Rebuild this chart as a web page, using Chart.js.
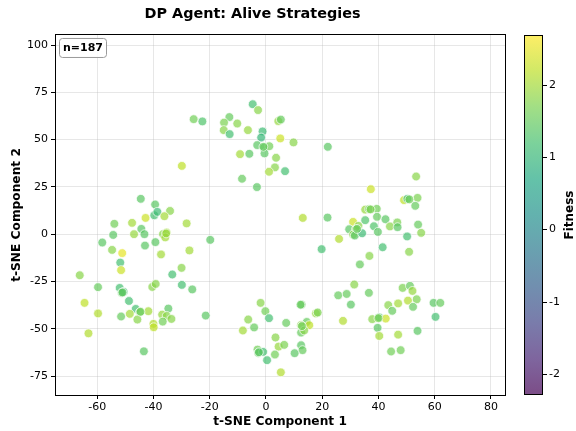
<!DOCTYPE html>
<html>
<head>
<meta charset="utf-8">
<script src="https://cdn.jsdelivr.net/npm/chart.js@4.4.1/dist/chart.umd.min.js"></script>
<style>
  html, body { margin: 0; padding: 0; background: #fff; }
  #wrap { width: 576px; height: 431px; }
</style>
</head>
<body>
<div id="wrap"><canvas id="tsneCanvas"></canvas></div>
<script>
// t-SNE points, one row per strategy: [x, y, fitness]
const topCluster = [
  [-4.7, 68.7, 1.2], [-2.8, 65.6, 1.8], [-25.7, 60.8, 1.6], [-22.6, 59.6, 1.3], [-13, 61.9, 1.5],
  [-14.9, 59, 1.7], [-10.2, 58.5, 1.8], [-15, 55, 1.8], [-12.9, 52.9, 1.2], [-6.4, 55, 1.9],
  [4.4, 59.8, 1.9], [5.3, 60.6, 1.5], [-1.2, 54.3, 1.1], [-1.7, 51.1, 1.0], [5.1, 50.6, 2.3],
  [9.8, 48.5, 1.8], [22, 46.2, 1.4], [-3.1, 47.1, 1.4], [-0.6, 45.8, 1.4], [1.2, 46.5, 1.6],
  [-0.5, 42.7, 1.4], [-9.2, 42.3, 2.0], [-5.9, 42.5, 1.4], [3.6, 40.4, 1.8], [3.2, 35.3, 1.8],
  [1.1, 33, 2.0], [6.8, 33.3, 1.2], [-8.5, 29.3, 1.5], [-3.2, 24.9, 1.4], [-29.9, 36.1, 2.2]
];
const leftCluster = [
  [-44.5, 18.7, 1.4], [-39.4, 15.7, 1.4], [-42.8, 8.6, 2.3], [-39.7, 10, 1.2], [-53.9, 5.5, 1.6],
  [-47.6, 6, 2.0], [-44.3, 2.8, 1.4], [-54.3, -0.4, 1.4], [-46.9, 0, 1.9], [-43.2, 0, 1.4],
  [-58.2, -4.4, 1.4], [-43, -6, 1.4], [-54.7, -8.3, 1.8], [-51.1, -10, 2.5], [-51.8, -15, 1.2],
  [-51.5, -19, 2.3], [-66.2, -21.7, 1.8], [-38.6, 11.8, 1.1], [-34.1, 12.3, 1.8], [-36.1, 9.5, 2.0],
  [-28.2, 5.7, 2.0], [-36.6, 0, 1.8], [-35.3, 0.9, 2.0], [-35.8, -1.7, 2.0], [-39.3, -4.2, 1.4],
  [-19.8, -3, 1.4], [-37.3, -10.7, 2.0], [-27.2, -8.6, 2.0], [-30, -17.8, 1.8], [-33.3, -21.3, 1.2],
  [-59.7, -28, 1.5], [-52, -28.4, 1.2], [-50.6, -30.5, 1.2], [-51.3, -31, 1.5], [-40.4, -27.9, 1.8],
  [-64.5, -36.3, 2.2], [-48.7, -35.3, 1.2], [-46.3, -39.5, 1.2], [-44.8, -41.2, 1.5], [-41.8, -40.7, 2.0],
  [-59.7, -41.9, 2.1], [-51.5, -43.5, 1.5], [-48.4, -42.1, 2.0], [-45.7, -45.1, 1.8], [-63.1, -52.4, 2.1],
  [-40, -47.4, 2.1], [-39.9, -49.2, 2.2], [-43.4, -61.9, 1.4], [-39.2, -26.3, 1.8], [-29.9, -26.8, 1.2],
  [-26.2, -29.2, 1.4], [-34.7, -39.3, 1.4], [-36.9, -42.5, 1.9], [-35.3, -43.2, 1.8], [-33.6, -44.8, 1.8],
  [-36.7, -46.2, 1.6], [-21.4, -43, 1.4]
];
const rightUpperCluster = [
  [37.3, 23.8, 2.3], [13.1, 8.6, 2.1], [21.9, 8.8, 1.4], [35.3, 13, 1.9], [36.7, 13.2, 1.5],
  [39.4, 13.4, 1.6], [39.5, 9.2, 1.5], [31, 6.5, 2.3], [35.3, 7.4, 1.3], [32.9, 4.4, 1.8],
  [29.6, 2.6, 1.4], [32, 2.6, 1.8], [38.4, 4.2, 1.3], [31, -0.2, 1.8], [31.6, -0.7, 1.4],
  [34.2, 0.5, 1.1], [26, -2.5, 2.1], [19.8, -7.9, 1.2], [36.8, -11.5, 1.8], [33.4, -16, 1.5],
  [53.4, 30.5, 1.8], [49.1, 18, 2.2], [50.3, 18.7, 1.1], [53.9, 19.2, 1.7], [53.1, 15, 1.5],
  [42.5, 7.9, 1.4], [46.7, 6.2, 1.7], [44.1, 4.1, 1.8], [46.8, 3.7, 1.4], [54.1, 5.1, 1.5],
  [55.2, 0.7, 1.8], [39.8, 1.2, 1.4], [50.2, -1.2, 1.2], [41.5, -6.9, 1.2], [50.9, -9.3, 1.8]
];
const rightLowerCluster = [
  [31.4, -26.6, 1.8], [25.7, -32.3, 1.5], [28.7, -31.6, 1.5], [36.6, -31, 1.5], [30.2, -37.2, 1.4],
  [12.7, -37.2, 1.5], [17.8, -41.9, 1.9], [18.4, -41.4, 1.7], [14.5, -46.4, 1.5], [12.5, -48.1, 1.8],
  [15.4, -48.1, 2.2], [12.5, -52, 1.5], [27.4, -45.8, 2.1], [37.8, -44.9, 1.8], [40.3, -44, 1.2],
  [39.7, -49.5, 1.4], [40.3, -53.8, 2.0], [12.5, -58.7, 1.4], [13, -61.3, 1.5], [48.6, -28.4, 1.7],
  [51.2, -27.3, 1.5], [52.1, -30, 1.9], [53.6, -34.4, 1.7], [50.5, -35.1, 2.1], [47, -36.6, 2.0],
  [43.5, -37.5, 1.8], [52.3, -38.4, 1.5], [44.9, -40.5, 1.5], [59.6, -36.3, 1.4], [62, -36.3, 1.5],
  [60.3, -43.7, 1.2], [42.6, -44.6, 2.3], [53.9, -51.1, 1.4], [47, -53.1, 2.0], [44.5, -62, 1.6],
  [47.9, -61.3, 1.6]
];
const bottomCluster = [
  [-1.9, -36.3, 1.8], [-0.2, -40.7, 1.6], [-6.3, -45.1, 1.8], [1.1, -44.4, 1.2], [-8.2, -50.9, 2.0],
  [-4.2, -49.3, 1.5], [7.2, -46.9, 1.5], [13.6, -50.9, 1.8], [3.4, -54.6, 1.8], [4.5, -59.4, 1.9],
  [6.5, -58.5, 1.7], [-3, -61, 1.6], [-2.7, -62.8, 1.5], [-1, -62.2, 1.2], [3.2, -63.6, 1.6],
  [0.4, -66.6, 1.2], [10.2, -62.9, 1.4], [5.3, -73, 2.1]
];
// points hidden under others
const overlapPoints = [
  [-35.5, 0.4, 1.9], [32.4, 2.8, 1.5], [-0.9, 46.2, 1.5], [-2.5, -62.4, 1.4], [12.8, -48.6, 1.6],
  [37.2, 13.1, 1.7], [51.0, 18.4, 1.6], [-44.6, -41.0, 1.6], [40.0, -44.4, 1.7], [-51.0, -30.8, 1.4],
  [12.3, -37.3, 1.5]
];

const xTicks = [-60, -40, -20, 0, 20, 40, 60, 80];
const yTicks = [-75, -50, -25, 0, 25, 50, 75, 100];
const fitnessTicks = [-2, -1, 0, 1, 2];
const fitnessMin = -2.29;
const fitnessMax = 2.69;

const allPoints = [].concat(topCluster, leftCluster, rightUpperCluster, rightLowerCluster, bottomCluster, overlapPoints);

// viridis
const viridisStops = ['#440154', '#482475', '#414487', '#355f8d', '#2a788e', '#21918c',
                      '#22a884', '#44bf70', '#7ad151', '#bddf26', '#fde725'];
function hexRgb(h) {
  return [parseInt(h.slice(1, 3), 16), parseInt(h.slice(3, 5), 16), parseInt(h.slice(5, 7), 16)];
}
function viridis(t, alpha) {
  t = Math.max(0, Math.min(1, t));
  const p = t * 10;
  const i = Math.min(9, Math.floor(p));
  const f = p - i;
  const a = hexRgb(viridisStops[i]), b = hexRgb(viridisStops[i + 1]);
  const c = a.map((v, k) => Math.round(v + (b[k] - v) * f));
  return 'rgba(' + c[0] + ',' + c[1] + ',' + c[2] + ',' + alpha + ')';
}
const pointColors = allPoints.map(p => viridis((p[2] - fitnessMin) / (fitnessMax - fitnessMin), 0.7));

const FONT = "'DejaVu Sans', sans-serif";

// n= box and colorbar
const extrasPlugin = {
  id: 'extras',
  afterDraw(chart) {
    const ctx = chart.ctx;
    const a = chart.chartArea;
    const R = Math.round(a.right);
    ctx.save();

    // n= box
    const bx = a.left + 4, by = a.top + 3, bw = 47, bh = 19;
    ctx.beginPath();
    ctx.roundRect(bx + 0.5, by + 0.5, bw, bh, 3);
    ctx.fillStyle = 'rgba(255,255,255,0.85)';
    ctx.fill();
    ctx.strokeStyle = '#9a9a9a';
    ctx.lineWidth = 1;
    ctx.stroke();
    ctx.fillStyle = '#000';
    ctx.font = 'bold 11px ' + FONT;
    ctx.textAlign = 'left';
    ctx.textBaseline = 'middle';
    ctx.fillText('n=' + allPoints.length, bx + 4, by + bh / 2 + 1);

    // colorbar
    const cb = chart.scales.cb;
    const top = Math.round(cb.getPixelForValue(fitnessMax));
    const bottom = Math.round(cb.getPixelForValue(fitnessMin));
    const left = R + 19, right = left + 18;
    const grad = ctx.createLinearGradient(0, bottom, 0, top);
    viridisStops.forEach((c, i) => grad.addColorStop(i / 10, viridis(i / 10, 0.7)));
    ctx.fillStyle = grad;
    ctx.fillRect(left, top, right - left, bottom - top);
    ctx.fillStyle = '#000';
    ctx.fillRect(left, top, right - left + 1, 1);
    ctx.fillRect(left, bottom - 1, right - left + 1, 1);
    ctx.fillRect(left, top, 1, bottom - top);
    ctx.fillRect(right, top, 1, bottom - top);

    ctx.font = '11px ' + FONT;
    ctx.textAlign = 'left';
    ctx.textBaseline = 'middle';
    fitnessTicks.forEach(v => {
      const y = Math.round(cb.getPixelForValue(v));
      ctx.fillRect(right, y, 5, 1);
      ctx.fillText(String(v), right + 7, y + 0.5);
    });

    ctx.translate(right + 28, (top + bottom) / 2);
    ctx.rotate(-Math.PI / 2);
    ctx.textAlign = 'center';
    ctx.font = 'bold 12px ' + FONT;
    ctx.fillText('Fitness', 0, 0);
    ctx.restore();
  }
};

const gridColor = 'rgba(176,176,176,0.3)';

// top and right spines as empty axes
const spineAxis = (axis, position, min, max) => ({
  type: 'linear',
  axis: axis,
  position: position,
  min: min,
  max: max,
  grid: { display: false, drawTicks: false },
  ticks: { display: false },
  border: { display: true, color: '#000', width: 1 },
  afterFit: s => { if (axis === 'x') { s.height = 0; } else { s.width = 0; } }
});

var ctx = document.getElementById('tsneCanvas').getContext('2d');
var tsneChart = new Chart(ctx, {
  type: 'scatter',
  data: {
    datasets: [{
      label: 'strategies',
      data: allPoints.map(p => ({ x: p[0], y: p[1] })),
      pointBackgroundColor: pointColors,
      pointBorderColor: 'rgba(255,255,255,0.9)',
      pointBorderWidth: 0.8,
      pointRadius: 4.4,
      pointHoverRadius: 4.4
    }]
  },
  options: {
    responsive: true,
    maintainAspectRatio: false,
    animation: false,
    events: [],
    layout: { padding: { left: 0, right: 71, top: 0, bottom: 0 } },
    plugins: {
      legend: { display: false },
      tooltip: { enabled: false },
      title: {
        display: true,
        text: 'DP Agent: Alive Strategies',
        color: '#000',
        font: { family: FONT, size: 14.4, weight: 'bold' },
        padding: { top: 5.3, bottom: 12.4 }
      }
    },
    scales: {
      x: {
        type: 'linear',
        min: -75,
        max: 85,
        afterBuildTicks: s => { s.ticks = xTicks.map(v => ({ value: v })); },
        afterFit: s => { s.height = 36; },
        grid: { color: gridColor, tickColor: '#000', tickLength: 4, lineWidth: 1 },
        border: { color: '#000', width: 1 },
        ticks: { color: '#000', font: { family: FONT, size: 11 }, padding: 2, maxRotation: 0 },
        title: {
          display: true,
          text: 't-SNE Component 1',
          color: '#000',
          font: { family: FONT, size: 12.2, weight: 'bold' },
          padding: { top: 0, bottom: 1.7 }
        }
      },
      y: {
        type: 'linear',
        min: -85,
        max: 105.3,
        afterBuildTicks: s => { s.ticks = yTicks.map(v => ({ value: v })); },
        afterFit: s => { s.width = 55; },
        grid: { color: gridColor, tickColor: '#000', tickLength: 4, lineWidth: 1 },
        border: { color: '#000', width: 1 },
        ticks: { color: '#000', font: { family: FONT, size: 11 }, padding: 3 },
        title: {
          display: true,
          text: 't-SNE Component 2',
          color: '#000',
          font: { family: FONT, size: 12.2, weight: 'bold' },
          padding: { top: 9.7, bottom: 0 }
        }
      },
      xTop: spineAxis('x', 'top', -75, 85),
      yRight: spineAxis('y', 'right', -85, 105.3),
      cb: {
        type: 'linear',
        axis: 'y',
        position: 'right',
        display: false,
        min: fitnessMin,
        max: fitnessMax
      }
    }
  },
  plugins: [extrasPlugin]
});
</script>
</body>
</html>
